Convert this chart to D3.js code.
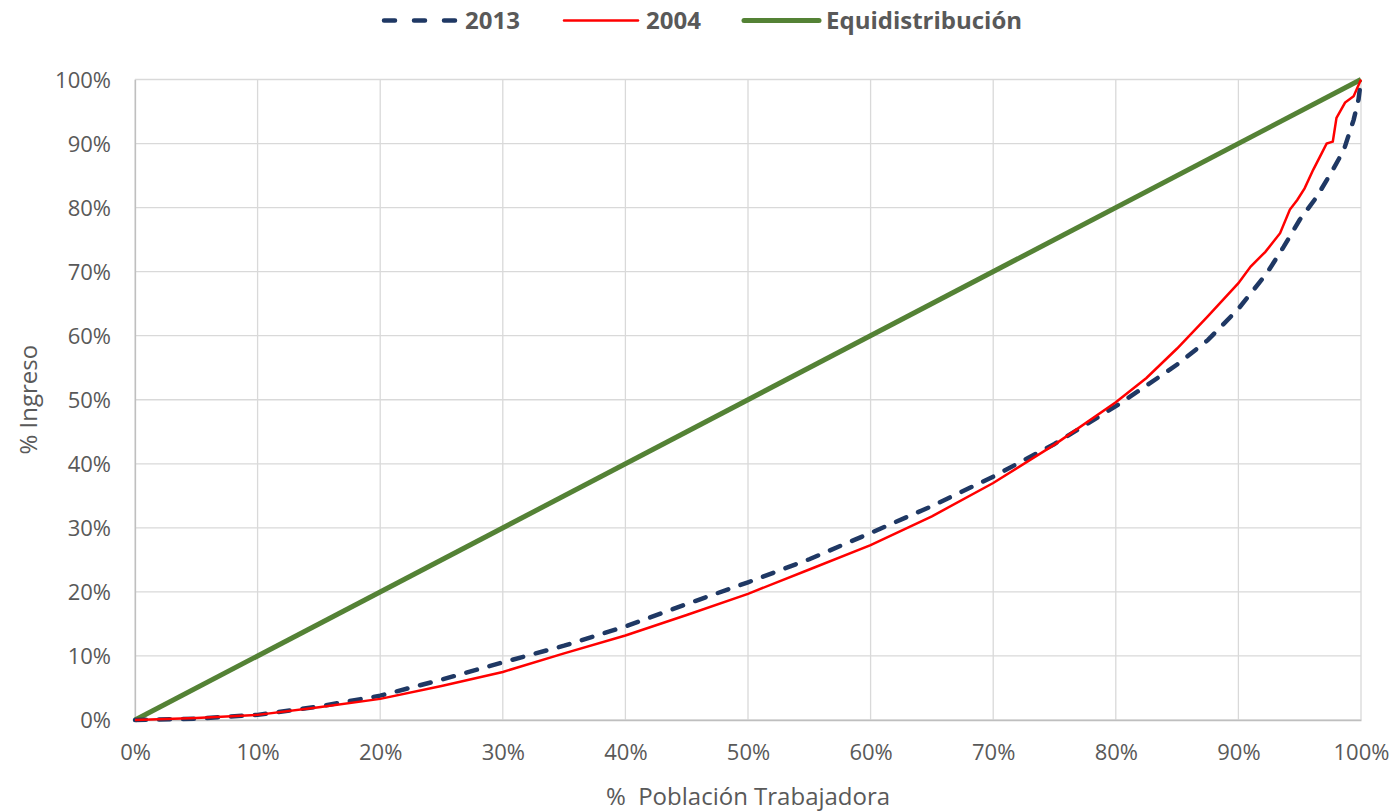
<!DOCTYPE html>
<html><head><meta charset="utf-8">
<script src="https://cdn.jsdelivr.net/npm/d3@7"></script>
<style>
html,body{margin:0;padding:0;background:#fff;}
text{font-family:"Open Sans",sans-serif;fill:#595959;}
</style></head>
<body><svg id="c" width="1398" height="812"></svg>
<script>
const xTicks = [0,10,20,30,40,50,60,70,80,90,100];
const yTicks = [0,10,20,30,40,50,60,70,80,90,100];
const seriesNames = ["2013","2004","Equidistribución"];

const pop2013 = [0,5,10,15,20,25,30,35,40,45,50,55,60,65,70,75,80,82.5,85,87.5,90,92.3,93.7,95,96.4,97.7,98.6,99.4,99.8,100];
const ing2013 = [0,0.2,0.8,2.1,3.8,6.3,9.0,11.6,14.6,18.1,21.5,25.1,29.2,33.4,38.0,43.1,49.0,52.2,55.5,59.3,64.2,69.7,73.9,78.1,81.7,85.9,89.0,93.7,96.9,100];

const pop2004 = [0,5,10,15,20,25,30,35,40,45,50,55,60,65,70,75,80,82.5,85,87.5,90,91,92.2,93.4,94.2,94.8,95.4,96.1,96.8,97.2,97.7,98.0,98.7,99.4,100];
const ing2004 = [0,0.3,0.8,2.0,3.3,5.3,7.5,10.4,13.2,16.4,19.7,23.5,27.3,31.8,37.0,43.0,49.6,53.4,58.0,63.0,68.2,70.8,73.1,76.0,79.7,81.2,83.0,85.9,88.5,90.0,90.3,94.0,96.4,97.4,100];

const popEqui = [0,100];
const ingEqui = [0,100];

const svg = d3.select("#c");
const L=135, R=1361, T=79.5, B=720;
const x = d3.scaleLinear().domain([0,100]).range([L,R]);
const y = d3.scaleLinear().domain([0,100]).range([B,T]);

// grid
svg.append("g").selectAll("line").data(xTicks).join("line")
  .attr("x1",d=>x(d)).attr("x2",d=>x(d)).attr("y1",T).attr("y2",B)
  .attr("stroke","#d9d9d9").attr("stroke-width",1.3);
svg.append("g").selectAll("line").data(yTicks).join("line")
  .attr("x1",L).attr("x2",R).attr("y1",d=>y(d)).attr("y2",d=>y(d))
  .attr("stroke","#d9d9d9").attr("stroke-width",1.3);

// axes
const xAxis = svg.append("g").attr("transform",`translate(0,${B})`)
  .call(d3.axisBottom(x).tickValues(xTicks).tickFormat(d=>d+"%").tickSize(0).tickPadding(24));
const yAxis = svg.append("g").attr("transform",`translate(${L},0)`)
  .call(d3.axisLeft(y).tickValues(yTicks).tickFormat(d=>d+"%").tickSize(0).tickPadding(24));
[xAxis,yAxis].forEach(a=>{
  a.select(".domain").attr("stroke","#bfbfbf").attr("stroke-width",1.3);
  a.selectAll("text").style("font-size","22px").attr("fill","#595959").style("font-family","'Open Sans',sans-serif");
});
yAxis.selectAll("text").attr("dy","0.35em");

// lines
const line = d3.line().x(d=>x(d[0])).y(d=>y(d[1]));
svg.append("path").datum(popEqui.map((p,i)=>[p,ingEqui[i]]))
  .attr("d",line).attr("fill","none").attr("stroke","#548235").attr("stroke-width",5);
svg.append("path").datum(pop2013.map((p,i)=>[p,ing2013[i]]))
  .attr("d",line).attr("fill","none").attr("stroke","#1f3864").attr("stroke-width",4.5)
  .attr("stroke-dasharray","11,13").attr("stroke-linecap","round");
svg.append("path").datum(pop2004.map((p,i)=>[p,ing2004[i]]))
  .attr("d",line).attr("fill","none").attr("stroke","#ff0000").attr("stroke-width",2.5);

// axis titles
svg.append("text").attr("x",(L+R)/2).attr("y",805).attr("text-anchor","middle")
  .style("font-size","24px").style("white-space","pre").text("%  Población Trabajadora");
svg.append("text").attr("transform",`translate(37,${(T+B)/2}) rotate(-90)`).attr("text-anchor","middle")
  .style("font-size","24px").text("% Ingreso");

// legend
const leg = [
  {name:seriesNames[0], x1:384, x2:456, tx:465, stroke:"#1f3864", w:4.5, dash:"11,19"},
  {name:seriesNames[1], x1:564, x2:638, tx:646, stroke:"#ff0000", w:2.5, dash:null},
  {name:seriesNames[2], x1:744, x2:819, tx:826, stroke:"#548235", w:5, dash:null}
];
const lg = svg.append("g");
leg.forEach(d=>{
  const l = lg.append("line").attr("x1",d.x1).attr("x2",d.x2).attr("y1",20.5).attr("y2",20.5)
    .attr("stroke",d.stroke).attr("stroke-width",d.w).attr("stroke-linecap","round");
  if(d.dash) l.attr("stroke-dasharray",d.dash);
  lg.append("text").attr("x",d.tx).attr("y",20.5).attr("dy","0.35em")
    .style("font-size","24px").style("font-weight","bold").text(d.name);
});
</script></body></html>
